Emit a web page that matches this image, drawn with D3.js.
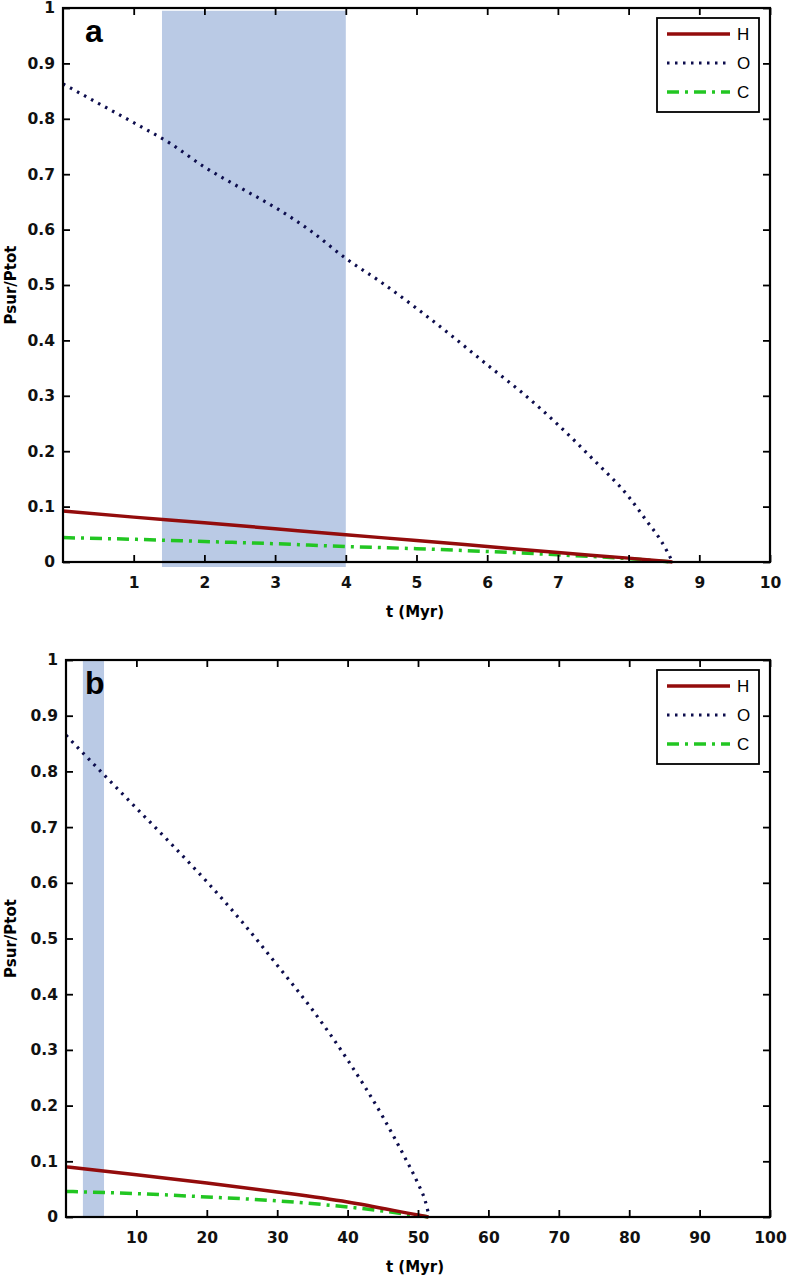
<!DOCTYPE html>
<html>
<head>
<meta charset="utf-8">
<script src="https://cdn.jsdelivr.net/npm/d3@7"></script>
<style>
  body { margin: 0; background: #fff; }
  svg { display: block; }
</style>
</head>
<body>
<div id="chart"></div>
<script>
// panel a : t in Myr, values Psur/Ptot
const aTimeHC = [0, 1, 2, 3, 4, 5, 6, 7, 8, 8.62];
const aH = [0.092, 0.081, 0.071, 0.060, 0.049, 0.039, 0.028, 0.017, 0.007, 0];
const aC = [0.044, 0.041, 0.037, 0.033, 0.028, 0.024, 0.019, 0.013, 0.006, 0];
const aTimeO = [0, 0.5, 1, 1.5, 2, 2.5, 3, 3.5, 4, 4.5, 5, 5.5, 6, 6.5, 7, 7.5, 8, 8.25, 8.45, 8.55, 8.62];
const aO = [0.863, 0.828, 0.793, 0.757, 0.713, 0.676, 0.640, 0.598, 0.548, 0.505, 0.458, 0.408, 0.356, 0.305, 0.248, 0.185, 0.118, 0.075, 0.040, 0.018, 0];
const aShade = [1.4, 4.0];
const aXTicks = [1, 2, 3, 4, 5, 6, 7, 8, 9, 10];

// panel b
const bTimeHC = [0, 10, 20, 30, 40, 50, 51.5];
const bH = [0.090, 0.076, 0.061, 0.045, 0.027, 0.0035, 0];
const bC = [0.046, 0.042, 0.036, 0.029, 0.018, 0.0025, 0];
const bTimeO = [0, 5, 10, 15, 20, 25, 30, 35, 40, 45, 48, 50, 51, 51.6];
const bO = [0.865, 0.799, 0.734, 0.669, 0.602, 0.530, 0.452, 0.372, 0.282, 0.180, 0.110, 0.060, 0.030, 0];
const bShade = [2.4, 5.4];
const bXTicks = [10, 20, 30, 40, 50, 60, 70, 80, 90, 100];

const yTicks = [0, 0.1, 0.2, 0.3, 0.4, 0.5, 0.6, 0.7, 0.8, 0.9, 1];
const seriesNames = ["H", "O", "C"];

const styles = {
  H: { color: "#930c0c", width: 3.5, dash: null },
  O: { color: "#0d0d4d", width: 3.2, dash: "2.5,5.5" },
  C: { color: "#22c622", width: 3.5, dash: "12,6,3,6" }
};

const svg = d3.select("#chart").append("svg")
  .attr("width", 787)
  .attr("height", 1281);

const tickFont = "'DejaVu Sans', sans-serif";

function drawPanel(p) {
  const x = d3.scaleLinear().domain(p.xDomain).range([p.left, p.right]);
  const y = d3.scaleLinear().domain([0, 1]).range([p.bottom, p.top]);
  const g = svg.append("g");

  // shaded interval
  g.append("rect")
    .attr("x", x(p.shade[0]))
    .attr("width", x(p.shade[1]) - x(p.shade[0]))
    .attr("y", y(p.shadeTop))
    .attr("height", y(p.shadeBottom) - y(p.shadeTop))
    .attr("fill", "#bacae5");

  const line = d3.line()
    .x(d => x(d[0]))
    .y(d => y(d[1]))
    .curve(d3.curveMonotoneX);

  const data = {
    H: p.tHC.map((t, i) => [t, p.H[i]]),
    O: p.tO.map((t, i) => [t, p.O[i]]),
    C: p.tHC.map((t, i) => [t, p.C[i]])
  };

  ["C", "H", "O"].forEach(k => {
    g.append("path")
      .datum(data[k])
      .attr("d", line)
      .attr("fill", "none")
      .attr("stroke", styles[k].color)
      .attr("stroke-width", styles[k].width)
      .attr("stroke-dasharray", styles[k].dash);
  });

  // axes, ticks pointing inward like matlab
  const xb = g.append("g")
    .attr("transform", `translate(0,${p.bottom})`)
    .call(d3.axisBottom(x).tickValues(p.xTicks).tickSizeInner(-7).tickSizeOuter(0).tickPadding(15));
  const yl = g.append("g")
    .attr("transform", `translate(${p.left},0)`)
    .call(d3.axisLeft(y).tickValues(yTicks).tickFormat(d3.format("")).tickSizeInner(-7).tickSizeOuter(0).tickPadding(8));
  const xt = g.append("g")
    .attr("transform", `translate(0,${p.top})`)
    .call(d3.axisTop(x).tickValues(p.xTicks).tickFormat("").tickSizeInner(-7).tickSizeOuter(0));
  const yr = g.append("g")
    .attr("transform", `translate(${p.right},0)`)
    .call(d3.axisRight(y).tickValues(yTicks).tickFormat("").tickSizeInner(-7).tickSizeOuter(0));

  [xb, yl, xt, yr].forEach(a => {
    a.select(".domain").remove();
    a.selectAll(".tick line").attr("stroke", "#000").attr("stroke-width", 1.8);
    a.selectAll(".tick text")
      .attr("font-family", tickFont)
      .attr("font-weight", "bold")
      .attr("font-size", 15.5)
      .attr("fill", "#111");
  });

  g.append("rect")
    .attr("x", p.left)
    .attr("y", p.top)
    .attr("width", p.right - p.left)
    .attr("height", p.bottom - p.top)
    .attr("fill", "none")
    .attr("stroke", "#000")
    .attr("stroke-width", 2.2);

  // axis titles
  g.append("text")
    .attr("x", 415)
    .attr("y", p.bottom + 55)
    .attr("text-anchor", "middle")
    .attr("font-family", tickFont)
    .attr("font-weight", "bold")
    .attr("font-size", 15)
    .text("t (Myr)");

  g.append("text")
    .attr("transform", `translate(16,${(p.top + p.bottom) / 2}) rotate(-90)`)
    .attr("text-anchor", "middle")
    .attr("font-family", tickFont)
    .attr("font-weight", "bold")
    .attr("font-size", 15)
    .text("Psur/Ptot");

  // panel letter
  g.append("text")
    .attr("x", 85)
    .attr("y", p.top + 34)
    .attr("font-family", "'Liberation Sans', Arial, sans-serif")
    .attr("font-weight", "bold")
    .attr("font-size", 32)
    .text(p.label);

  // legend
  const lg = g.append("g").attr("transform", `translate(657,${p.top + 10})`);
  lg.append("rect")
    .attr("width", 102)
    .attr("height", 94)
    .attr("fill", "#fff")
    .attr("stroke", "#000")
    .attr("stroke-width", 1.8);
  seriesNames.forEach((k, i) => {
    const ly = 16 + i * 29;
    lg.append("line")
      .attr("x1", 10).attr("x2", 73)
      .attr("y1", ly).attr("y2", ly)
      .attr("stroke", styles[k].color)
      .attr("stroke-width", styles[k].width)
      .attr("stroke-dasharray", styles[k].dash);
    lg.append("text")
      .attr("x", 80)
      .attr("y", ly + 6)
      .attr("font-family", "'Liberation Sans', Arial, sans-serif")
      .attr("font-size", 17)
      .text(k);
  });
}

drawPanel({
  label: "a", left: 63, right: 770, top: 8, bottom: 562,
  xDomain: [0, 10], xTicks: aXTicks,
  shade: aShade, shadeTop: 0.995, shadeBottom: -0.009,
  tHC: aTimeHC, H: aH, C: aC, tO: aTimeO, O: aO
});

drawPanel({
  label: "b", left: 66, right: 770, top: 660, bottom: 1217,
  xDomain: [0, 100], xTicks: bXTicks,
  shade: bShade, shadeTop: 1, shadeBottom: 0,
  tHC: bTimeHC, H: bH, C: bC, tO: bTimeO, O: bO
});
</script>
</body>
</html>
